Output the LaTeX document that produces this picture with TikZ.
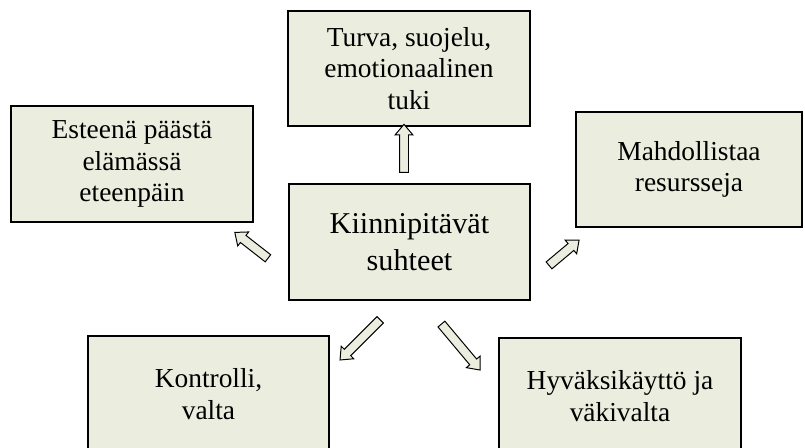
\documentclass[tikz,border=0pt]{standalone}
\usepackage{fontspec}
\setmainfont{Liberation Serif}
\usepackage{tikz}
\usetikzlibrary{shapes,positioning}

\definecolor{boxfill}{HTML}{EBEEDF}

\begin{document}
\begin{tikzpicture}[x=0.025cm, y=-0.025cm]
      \tikzstyle{tnode} = [draw=black, line width=1.3pt, fill=boxfill, rectangle,
        minimum width=6.03cm, minimum height=2.88cm, align=center, inner sep=2pt,
        font=\fontsize{19.5}{22.3}\selectfont]
      \tikzstyle{pil} = [draw=black, line width=0.7pt, fill=boxfill, single arrow,
        inner xsep=0pt, inner ysep=0.1cm, single arrow head extend=0.11cm,
        single arrow tip angle=80]

      \useasboundingbox (0,0) rectangle (805,448);
      \clip (0,0) rectangle (805,448);

      \node[tnode] (turva) at (409,68.5) {Turva, suojelu,\\emotionaalinen\\tuki};
      \node[tnode] (este) at (132,164) {Esteenä päästä\\elämässä\\eteenpäin};
      \node[tnode, minimum width=5.65cm] (mahd) at (689,169.5) {Mahdollistaa\\resursseja};
      \node[tnode, font=\fontsize{21.5}{26}\selectfont] (kp) at (409.5,242) {Kiinnipitävät\\suhteet};
      \node[tnode] (kontr) at (208.5,394) {Kontrolli,\\valta};
      \node[tnode] (hyv) at (620,396) {Hyväksikäyttö ja\\väkivalta};

      \node[pil, rotate=90, minimum height=1.2cm] (p1) at (404,151) {};
      \node[pil, rotate=142, minimum height=1.05cm] (p2) at (253.5,247) {};
      \node[pil, rotate=40, minimum height=0.98cm] (p3) at (562,254.5) {};
      \node[pil, rotate=225, minimum height=1.42cm] (p4) at (362,338) {};
      \node[pil, rotate=-50, minimum height=1.5cm] (p5) at (459,345) {};
\end{tikzpicture}
\end{document}
